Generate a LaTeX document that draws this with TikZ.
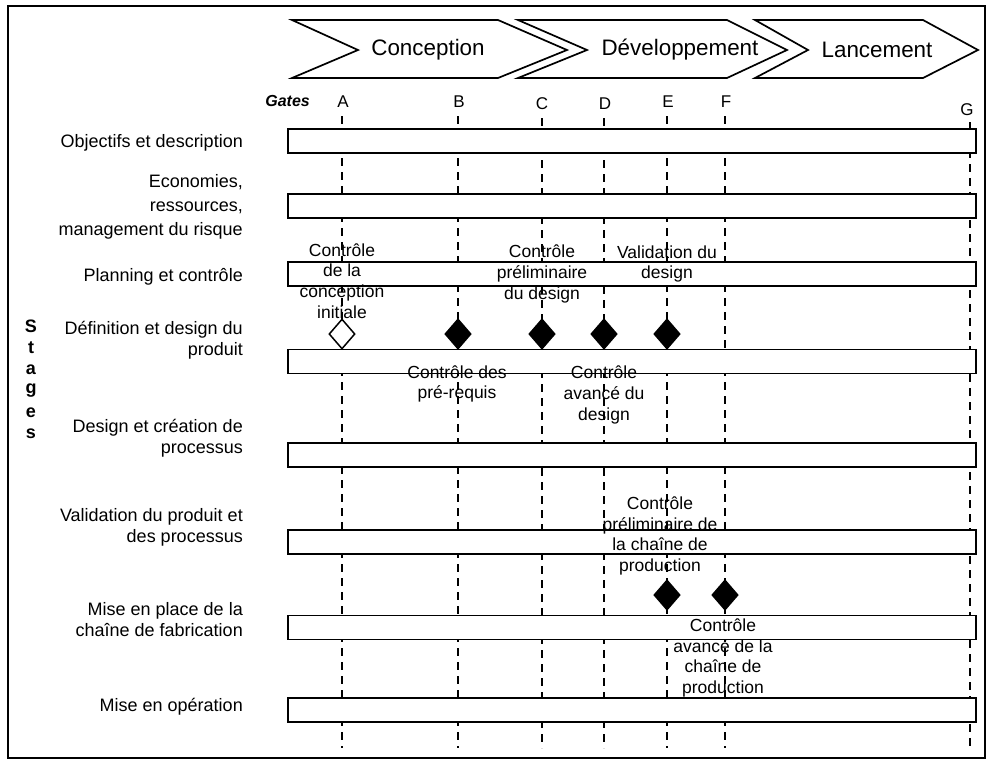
\documentclass[tikz,border=0pt]{standalone}
\usepackage{fontspec}
\setmainfont{Liberation Sans}
\usetikzlibrary{shapes.geometric}
\begin{document}
\begin{tikzpicture}[x=1pt,y=-1pt,
  bar/.style={draw,line width=1.5pt,fill=white,minimum width=688pt,minimum height=24pt,inner sep=0pt},
  chev/.style={draw,line width=1.7pt,line join=miter},
  gateline/.style={line width=1.6pt,dash pattern=on 8pt off 6pt},
  stagelbl/.style={anchor=east,align=right,inner sep=0pt,font=\fontsize{18}{21}\selectfont},
  note/.style={align=center,inner sep=0pt,font=\fontsize{17.5}{20.7}\selectfont},
  gatelbl/.style={inner sep=0pt,font=\fontsize{17}{20}\selectfont},
  phase/.style={inner sep=0pt,font=\fontsize{22.4}{26}\selectfont},
  gw/.style={shape=diamond,draw,line width=1.5pt,fill=white,minimum width=26pt,minimum height=30pt,inner sep=0pt},
  gb/.style={gw,fill=black},
  stl/.style={inner sep=0pt,font=\fontsize{18}{20}\selectfont\bfseries}]
\useasboundingbox (0,0) rectangle (988,764);
\draw[line width=1.5pt] (8,6) rectangle (985,758);
% chevrons
\draw[chev] (292,20) -- (498,20) -- (567,50) -- (498,78) -- (292,78) -- (358,50) -- cycle;
\draw[chev] (518,20) -- (727,20) -- (787,50) -- (727,78) -- (518,78) -- (587,50) -- cycle;
\draw[chev] (755,20) -- (923,20) -- (978,50) -- (923,78) -- (755,78) -- (808,50) -- cycle;
\node[phase] (p1) at (428,50) {Conception};
\node[phase] (p2) at (680,50) {Développement};
\node[phase] (p3) at (877,50) {Lancement};
% gates
\node[gatelbl,anchor=east,font=\fontsize{16}{19}\selectfont\bfseries\itshape] (gates) at (310,101) {Gates};
\node[gatelbl] (gA) at (343,102) {A};
\node[gatelbl] (gB) at (459,102) {B};
\node[gatelbl] (gC) at (542,104) {C};
\node[gatelbl] (gD) at (605,104) {D};
\node[gatelbl] (gE) at (668,102) {E};
\node[gatelbl] (gF) at (726,102) {F};
\node[gatelbl] (gG) at (967,110) {G};
\foreach \n/\x/\t in {A/342/116,B/458/116,C/542/118,D/604/118,E/667/116,F/725/116,G/970/122}{
  \coordinate (t\n) at (\x,\t);
  \coordinate (e\n) at (\x,748);
  \draw[gateline] (t\n) -- (e\n);
}
% stage labels
\node[stl] (s1) at (31,326) {S};
\node[stl] (s2) at (31,348) {t};
\node[stl] (s3) at (31,370) {a};
\node[stl] (s4) at (31,391) {g};
\node[stl] (s5) at (31,413) {e};
\node[stl] (s6) at (31,434) {s};
\node[stagelbl] (l1) at (243,143) {Objectifs et description};
\node[stagelbl,font=\fontsize{18}{24}\selectfont] (l2) at (243,207) {Economies,\\ressources,\\management du risque};
\node[stagelbl] (l3) at (243,277) {Planning et contrôle};
\node[stagelbl] (l4) at (243,340) {Définition et design du\\produit};
\node[stagelbl] (l5) at (243,438) {Design et création de\\processus};
\node[stagelbl] (l6) at (243,527) {Validation du produit et\\des processus};
\node[stagelbl] (l7) at (243,620) {Mise en place de la\\chaîne de fabrication};
\node[stagelbl] (l8) at (243,707) {Mise en opération};
% bars
\node[bar] (b1) at (632,141) {};
\node[bar] (b2) at (632,206) {};
\node[bar] (b3) at (632,274) {};
\node[bar] (b4) at (632,361.5) {};
\node[bar] (b5) at (632,455) {};
\node[bar] (b6) at (632,542) {};
\node[bar] (b7) at (632,627.5) {};
\node[bar] (b8) at (632,710) {};
% notes
\node[note] (nA) at (342,281) {Contrôle\\de la\\conception\\initiale};
\node[note] (nC) at (542,274) {Contrôle\\préliminaire\\du design};
\node[note] (nE) at (667,264) {Validation du\\design};
\node[note] (nB) at (457,384) {Contrôle des\\pré-requis};
\node[note] (nD) at (604,395) {Contrôle\\avancé du\\design};
\node[note] (nE2) at (660,536) {Contrôle\\préliminaire de\\la chaîne de\\production};
\node[note] (nF) at (723,658) {Contrôle\\avancé de la\\chaîne de\\production};
% diamonds
\node[gw] (dA) at (342,334) {};
\node[gb] (dB) at (458,334) {};
\node[gb] (dC) at (542,334) {};
\node[gb] (dD) at (604,334) {};
\node[gb] (dE) at (667,334) {};
\node[gb] (dE2) at (667,595) {};
\node[gb] (dF) at (725,595) {};
\end{tikzpicture}
\end{document}
